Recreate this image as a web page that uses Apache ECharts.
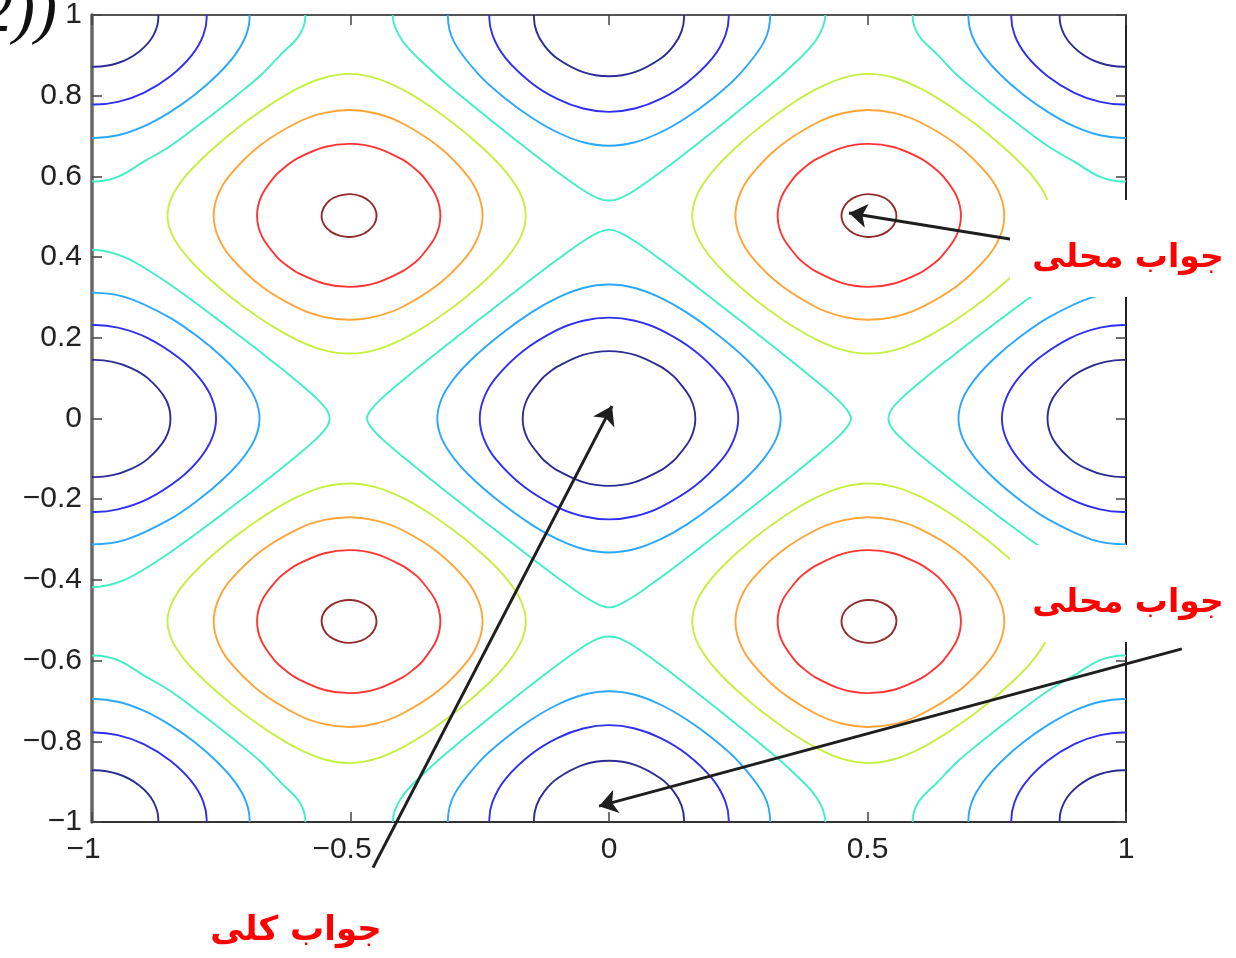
<!DOCTYPE html>
<html><head><meta charset="utf-8">
<script src="https://cdn.jsdelivr.net/npm/echarts@6/dist/echarts.min.js"></script>
<style>html,body{margin:0;padding:0;background:#fff}#c{width:1236px;height:958px}</style>
</head><body><div id="c"></div><script>
// ---- axis ticks ----
const xTicks = [-1, -0.5, 0, 0.5, 1];
const yTicks = [-1, -0.8, -0.6, -0.4, -0.2, 0, 0.2, 0.4, 0.6, 0.8, 1];
// ---- contour levels and colours (jet) ----
const levels = [-1.5, -1, -0.5, 0, 0.5, 1, 1.5, 2];
const levelColors = ['#2c2c94', '#2f2ff0', '#2aa8ff', '#40f0c4', '#c6f040', '#ffa536', '#ff3434', '#922c2c'];

// ---- minimum at (0,0): one quadrant of each closed contour (x>=0,y>=0) ----
const cenLvlA = [[0,0.167],[0.05,0.1576],[0.1,0.1286],[0.115,0.115],[0.1286,0.1],[0.1576,0.05],[0.167,0]];
const cenLvlB = [[0,0.25],[0.05,0.2422],[0.1,0.2194],[0.1667,0.1667],[0.2194,0.1],[0.2422,0.05],[0.25,0]];
const cenLvlC = [[0,0.332],[0.05,0.3235],[0.1,0.299],[0.15,0.263],[0.209,0.209],[0.263,0.15],[0.299,0.1],[0.3235,0.05],[0.332,0]];
const cenLvlD = [[0,0.468],[0.02,0.461],[0.05,0.4394],[0.1,0.3938],[0.15,0.3455],[0.2,0.2962],[0.2482,0.2482],[0.2962,0.2],[0.3455,0.15],[0.3938,0.1],[0.4394,0.05],[0.461,0.02],[0.468,0]];

// ---- minimum at (0,1): right half of each arc (x>=0), from its lowest point up past the frame ----
const edgeLvlA = [[0,0.8482],[0.05,0.8584],[0.1,0.8922],[0.125,0.9242],[0.1405,0.96],[0.1451,1.0],[0.1369,1.04]];
const edgeLvlB = [[0,0.760],[0.05,0.7682],[0.1,0.792],[0.15,0.8316],[0.2,0.893],[0.2253,0.95],[0.2315,1.0],[0.2218,1.05]];
const edgeLvlC = [[0,0.676],[0.05,0.6846],[0.1,0.7094],[0.15,0.7461],[0.2,0.7926],[0.25,0.8497],[0.3,0.934],[0.3119,1.0],[0.3017,1.05]];
const edgeLvlD = [[0,0.5404],[0.02,0.5452],[0.05,0.5657],[0.1,0.6108],[0.15,0.6597],[0.2,0.7099],[0.25,0.7613],[0.3,0.814],[0.35,0.870],[0.4,0.937],[0.4184,1.0],[0.4007,1.05]];

// ---- minimum at (1,1): arcs as distances (a,b) = (1-x, 1-y) ----
const cornLvlA = [[0.1134,-0.05],[0.1282,0],[0.119,0.05],[0.0909,0.0909],[0.05,0.119],[0,0.1282],[-0.05,0.1134]];
const cornLvlB = [[0.2116,-0.05],[0.2218,0],[0.2153,0.05],[0.1928,0.1],[0.1516,0.1516],[0.1,0.1928],[0.05,0.2153],[0,0.2218],[-0.05,0.2116]];
const cornLvlC = [[0.2942,-0.05],[0.3047,0],[0.2981,0.05],[0.276,0.1],[0.2412,0.15],[0.1981,0.1981],[0.15,0.2412],[0.1,0.276],[0.05,0.2981],[0,0.3047],[-0.05,0.2942]];
const cornLvlD = [[0.3952,-0.05],[0.4124,0],[0.401,0.05],[0.3635,0.1],[0.3258,0.15],[0.279,0.2],[0.2399,0.2399],[0.2,0.279],[0.15,0.3258],[0.1,0.3635],[0.05,0.401],[0,0.4124],[-0.05,0.3952]];

// ---- maximum at (0.5,0.5): offsets from the peak, per quadrant ----
// pp: outward/outward, mm: inward/inward (stored as positive distances), pm: outward x / inward y
const maxLvlE_pp = [[0,0.354],[0.05,0.3452],[0.1,0.3195],[0.15,0.2822],[0.2,0.2377],[0.2191,0.2191],[0.2377,0.2],[0.2822,0.15],[0.3195,0.1],[0.3452,0.05],[0.354,0]];
const maxLvlE_mm = [[0,0.339],[0.05,0.3291],[0.1,0.3037],[0.15,0.2671],[0.2,0.2224],[0.2113,0.2113],[0.2224,0.2],[0.2671,0.15],[0.3037,0.1],[0.3291,0.05],[0.339,0]];
const maxLvlE_pm = [[0,0.339],[0.05,0.3311],[0.1,0.3074],[0.15,0.2724],[0.2,0.2294],[0.2151,0.2151],[0.2305,0.2],[0.2769,0.15],[0.3155,0.1],[0.343,0.05],[0.354,0]];
const maxLvlF_pp = [[0,0.2646],[0.05,0.2576],[0.1,0.2354],[0.1758,0.1758],[0.2354,0.1],[0.2576,0.05],[0.2646,0]];
const maxLvlF_mm = [[0,0.2554],[0.05,0.2468],[0.1,0.2236],[0.1688,0.1688],[0.2236,0.1],[0.2468,0.05],[0.2554,0]];
const maxLvlF_pm = [[0,0.2554],[0.05,0.2486],[0.1,0.2271],[0.1723,0.1723],[0.2318,0.1],[0.2559,0.05],[0.2646,0]];
const maxLvlG_pp = [[0,0.1807],[0.05,0.1728],[0.1,0.1465],[0.125,0.125],[0.1465,0.1],[0.1728,0.05],[0.1807,0]];
const maxLvlG_mm = [[0,0.1738],[0.05,0.164],[0.1,0.1355],[0.1189,0.1189],[0.1355,0.1],[0.164,0.05],[0.1738,0]];
const maxLvlG_pm = [[0,0.1738],[0.05,0.166],[0.1,0.1402],[0.1219,0.1219],[0.142,0.1],[0.1708,0.05],[0.1807,0]];
const maxLvlH_pp = [[0,0.056],[0.0216,0.0522],[0.0405,0.0405],[0.0522,0.0216],[0.056,0]];
const maxLvlH_mm = [[0,0.0503],[0.0189,0.0457],[0.0344,0.0344],[0.0457,0.0189],[0.0503,0]];
const maxLvlH_pm = [[0,0.0503],[0.0197,0.0476],[0.0375,0.0375],[0.0505,0.0209],[0.056,0]];

// ---- annotations (data coordinates) ----
const annLocal = 'جواب محلی';
const annGlobal = 'جواب کلی';
const arrowLocalTop = [[0.814, 0.437], [0.4642, 0.5092]];
const arrowLocalBottom = [[1.108, -0.571], [-0.0193, -0.9607]];
const arrowGlobal = [[-0.4565, -1.113], [0.0058, 0.0307]];
const topFormulaText = '2))';

// ---------- assemble contour paths ----------
function cat(arcs) { // join arcs, dropping duplicate joint points
  const out = [];
  arcs.forEach(a => a.forEach(p => {
    const l = out[out.length - 1];
    if (!l || Math.abs(l[0] - p[0]) > 1e-9 || Math.abs(l[1] - p[1]) > 1e-9) out.push(p);
  }));
  const f = out[0], l = out[out.length - 1];
  if (out.length > 2 && Math.abs(f[0] - l[0]) < 1e-9 && Math.abs(f[1] - l[1]) < 1e-9) out.pop();
  return out;
}
function centerLoop(q) {
  return cat([
    q.map(([x, y]) => [x, y]),
    q.slice().reverse().map(([x, y]) => [x, -y]),
    q.map(([x, y]) => [-x, -y]),
    q.slice().reverse().map(([x, y]) => [-x, y])
  ]);
}
function maxLoop(pp, mm, pm, sx, sy) {
  const local = cat([
    pp.map(([u, v]) => [u, v]),
    pm.slice().reverse().map(([u, q]) => [u, -q]),
    mm.map(([p, q]) => [-p, -q]),
    pm.map(([u, q]) => [-q, u])
  ]);
  return local.map(([u, v]) => [sx * (0.5 + u), sy * (0.5 + v)]);
}
function edgeArcs(R) {
  const full = [];
  R.slice(1).reverse().forEach(([x, y]) => full.push([-x, y]));
  R.forEach(p => full.push(p));
  return [
    full.map(([x, y]) => [x, y]),
    full.map(([x, y]) => [x, -y]),
    full.map(([x, y]) => [y, x]),
    full.map(([x, y]) => [-y, x])
  ];
}
function cornerArcs(K) {
  return [[1, 1], [-1, 1], [1, -1], [-1, -1]].map(([sx, sy]) =>
    K.map(([a, b]) => [sx * (1 - a), sy * (1 - b)]));
}

const contoursByLevel = levels.map(() => []);
[[cenLvlA, edgeLvlA, cornLvlA], [cenLvlB, edgeLvlB, cornLvlB], [cenLvlC, edgeLvlC, cornLvlC], [cenLvlD, edgeLvlD, cornLvlD]]
  .forEach(([c, e, k], li) => {
    contoursByLevel[li].push({ closed: true, pts: centerLoop(c) });
    edgeArcs(e).forEach(d => contoursByLevel[li].push({ closed: false, pts: d }));
    cornerArcs(k).forEach(d => contoursByLevel[li].push({ closed: false, pts: d }));
  });
[[maxLvlE_pp, maxLvlE_mm, maxLvlE_pm], [maxLvlF_pp, maxLvlF_mm, maxLvlF_pm], [maxLvlG_pp, maxLvlG_mm, maxLvlG_pm], [maxLvlH_pp, maxLvlH_mm, maxLvlH_pm]]
  .forEach(([pp, mm, pm], i) => {
    [[1, 1], [-1, 1], [1, -1], [-1, -1]].forEach(([sx, sy]) =>
      contoursByLevel[4 + i].push({ closed: true, pts: maxLoop(pp, mm, pm, sx, sy) }));
  });

const series = contoursByLevel.map((list, li) => ({
  type: 'custom', coordinateSystem: 'cartesian2d', clip: true, silent: true, z: 2,
  animation: false,
  data: list.map(c => c.pts[0]),
  renderItem: (params, api) => {
    const c = list[params.dataIndex];
    const pts = c.pts.map(p => api.coord(p));
    return {
      type: c.closed ? 'polygon' : 'polyline',
      shape: { points: pts, smooth: 0.34 },
      style: { fill: null, stroke: levelColors[li], lineWidth: 1.9 }
    };
  }
}));
series.push({
  type: 'lines', coordinateSystem: 'cartesian2d', clip: false, silent: true, z: 5,
  symbol: ['none', 'arrow'], symbolSize: 18,
  lineStyle: { color: '#1e1e1e', width: 3, opacity: 1, curveness: 0 },
  data: [arrowLocalTop, arrowLocalBottom, arrowGlobal].map(c => ({ coords: c })),
  animation: false
});

const labelFont = 'Liberation Sans, Arial, Helvetica, sans-serif';
function fmt(v) {
  const a = String(Math.round(Math.abs(v) * 10) / 10);
  return v < -1e-9 ? '−' + a : a;
}
const axisCommon = {
  type: 'value', min: -1, max: 1, splitLine: { show: false },
  axisTick: { inside: true, length: 10, lineStyle: { color: '#444', width: 1.5 } }
};
const chart = echarts.init(document.getElementById('c'), null, { renderer: 'canvas' });
chart.setOption({
  animation: false,
  backgroundColor: '#ffffff',
  grid: { left: 92, right: 110, top: 7, bottom: 136, containLabel: false },
  xAxis: [
    Object.assign({}, axisCommon, {
      position: 'bottom', interval: xTicks[1] - xTicks[0],
      axisLine: { show: true, onZero: false, lineStyle: { color: '#333', width: 2 } },
      axisLabel: {
        show: true, margin: 13, color: '#222', fontSize: 30, fontFamily: labelFont,
        formatter: v => v < -1e-9 ? '{n|' + fmt(v) + '}' : '{p|' + fmt(v) + '}',
        rich: {
          n: { padding: [0, 17, 0, 0], fontSize: 30, fontFamily: labelFont, color: '#222' },
          p: { fontSize: 30, fontFamily: labelFont, color: '#222' }
        }
      }
    }),
    Object.assign({}, axisCommon, {
      position: 'top', interval: xTicks[1] - xTicks[0],
      axisLine: { show: true, onZero: false, lineStyle: { color: '#555', width: 2 } },
      axisLabel: { show: false }
    })
  ],
  yAxis: [
    Object.assign({}, axisCommon, {
      position: 'left', interval: Math.round((yTicks[1] - yTicks[0]) * 10) / 10,
      axisLine: { show: true, onZero: false, lineStyle: { color: '#666', width: 3.5 } },
      axisLabel: { show: true, margin: 10, color: '#222', fontSize: 30, fontFamily: labelFont, formatter: fmt }
    }),
    Object.assign({}, axisCommon, {
      position: 'right', interval: Math.round((yTicks[1] - yTicks[0]) * 10) / 10,
      axisLine: { show: true, onZero: false, lineStyle: { color: '#222', width: 2 } },
      axisLabel: { show: false }
    })
  ],
  series: series,
  graphic: [
    { type: 'rect', z: 100, shape: { x: 1010, y: 200, width: 226, height: 97 }, style: { fill: '#fff' }, silent: true },
    { type: 'rect', z: 100, shape: { x: 1010, y: 545, width: 226, height: 97 }, style: { fill: '#fff' }, silent: true },
    { type: 'text', z: 101, x: 1128, y: 258, style: { text: annLocal, fill: '#ff0000', font: 'bold 33px "DejaVu Sans", sans-serif', align: 'center', verticalAlign: 'middle' } },
    { type: 'text', z: 101, x: 1128, y: 603, style: { text: annLocal, fill: '#ff0000', font: 'bold 33px "DejaVu Sans", sans-serif', align: 'center', verticalAlign: 'middle' } },
    { type: 'text', z: 101, x: 296, y: 931, style: { text: annGlobal, fill: '#ff0000', font: 'bold 34px "DejaVu Sans", sans-serif', align: 'center', verticalAlign: 'middle' } },
    { type: 'text', z: 101, x: -20, y: 14, style: { text: topFormulaText, fill: '#111', font: 'italic 66px "Liberation Serif", "DejaVu Serif", serif', align: 'left', verticalAlign: 'middle' } }
  ]
});
</script></body></html>
